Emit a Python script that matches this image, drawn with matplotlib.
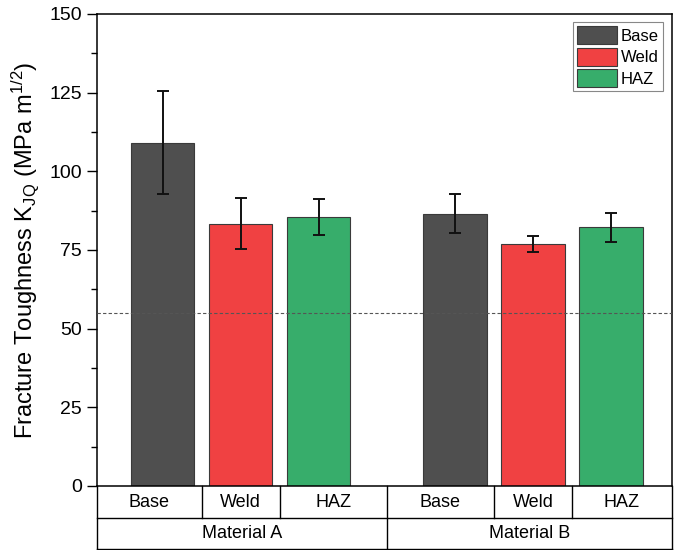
import matplotlib.pyplot as plt
from matplotlib.patches import Patch
from matplotlib.ticker import MultipleLocator

plt.rcParams['font.family'] = ['Liberation Sans', 'DejaVu Sans']
plt.rcParams['mathtext.fontset'] = 'custom'
plt.rcParams['mathtext.rm'] = 'Liberation Sans'
plt.rcParams['mathtext.it'] = 'Liberation Sans:italic'

materials = ["Material A", "Material B"]
zones = ["Base", "Weld", "HAZ"]
means = {
    "Material A": [109.1, 83.4, 85.5],
    "Material B": [86.5, 76.8, 82.2],
}
errors = {
    "Material A": [16.3, 8.0, 5.6],
    "Material B": [6.2, 2.6, 4.6],
}
threshold = 55
colors = ["#4f4f4f", "#f04142", "#37ad6b"]

group_start = [0.0, 3.75]
width = 0.81

fig = plt.figure(figsize=(6.74, 5.5), dpi=100)
ax = fig.add_axes([0.1439, 0.1164, 0.853, 0.8582])

for g, mat in enumerate(materials):
    xs = [group_start[g] + i for i in range(len(zones))]
    ax.bar(xs, means[mat], width=width, color=colors, edgecolor="#3a3a3a",
           linewidth=0.8, zorder=2)
    ax.errorbar(xs, means[mat], yerr=errors[mat], fmt="none", ecolor="#111111",
                elinewidth=1.4, capsize=4, capthick=1.4, zorder=3)

ax.axhline(threshold, color="#555555", linestyle=(0, (3, 2)), linewidth=0.8, zorder=4)

xmin, xmax = -0.84, 6.53
ax.set_xlim(xmin, xmax)
ax.set_ylim(0, 150)
ax.yaxis.set_major_locator(MultipleLocator(25))
ax.yaxis.set_minor_locator(MultipleLocator(12.5))
ax.tick_params(axis="y", which="major", length=7, width=1, labelsize=14, pad=4, direction="out")
ax.tick_params(axis="y", which="minor", length=4.3, width=1, direction="out")
ax.set_xticks([])
for s in ax.spines.values():
    s.set_linewidth(1.1)

ax.set_ylabel(r"Fracture Toughness K$_{\mathrm{JQ}}$ (MPa m$^{1/2}$)", fontsize=17, labelpad=6)

# two-row category table under the axis
trans = ax.get_xaxis_transform()
row1, row2 = -0.068, -0.134
kw = dict(transform=trans, clip_on=False, color="black", linewidth=1.0)
ax.plot([xmin, xmin], [0, row2], **kw)
ax.plot([xmax, xmax], [0, row2], **kw)
ax.plot([xmin, xmax], [row1, row1], **kw)
ax.plot([xmin, xmax], [row2, row2], **kw)
mid = (group_start[0] + 2 + group_start[1]) / 2
ax.plot([mid, mid], [0, row2], **kw)
edges = [[xmin, 0.5, 1.5, mid], [mid, group_start[1] + 0.5, group_start[1] + 1.5, xmax]]
for g, mat in enumerate(materials):
    e = edges[g]
    for b in e[1:3]:
        ax.plot([b, b], [0, row1], **kw)
    for i, z in enumerate(zones):
        ax.text((e[i] + e[i + 1]) / 2, row1 / 2, z, transform=trans,
                ha="center", va="center", fontsize=13)
    ax.text((e[0] + e[3]) / 2, (row1 + row2) / 2, mat, transform=trans,
            ha="center", va="center", fontsize=13)

handles = [Patch(facecolor=c, edgecolor="#3a3a3a", linewidth=0.8) for c in colors]
leg = ax.legend(handles, zones, loc="upper right", bbox_to_anchor=(0.985, 0.983),
                fontsize=12, fancybox=False, framealpha=1, edgecolor="#888888",
                handlelength=2.4, handleheight=1.3, handletextpad=0.25,
                labelspacing=0.2, borderpad=0.25, borderaxespad=0)
leg.get_frame().set_linewidth(0.8)

fig.savefig("out.png", dpi=100)
